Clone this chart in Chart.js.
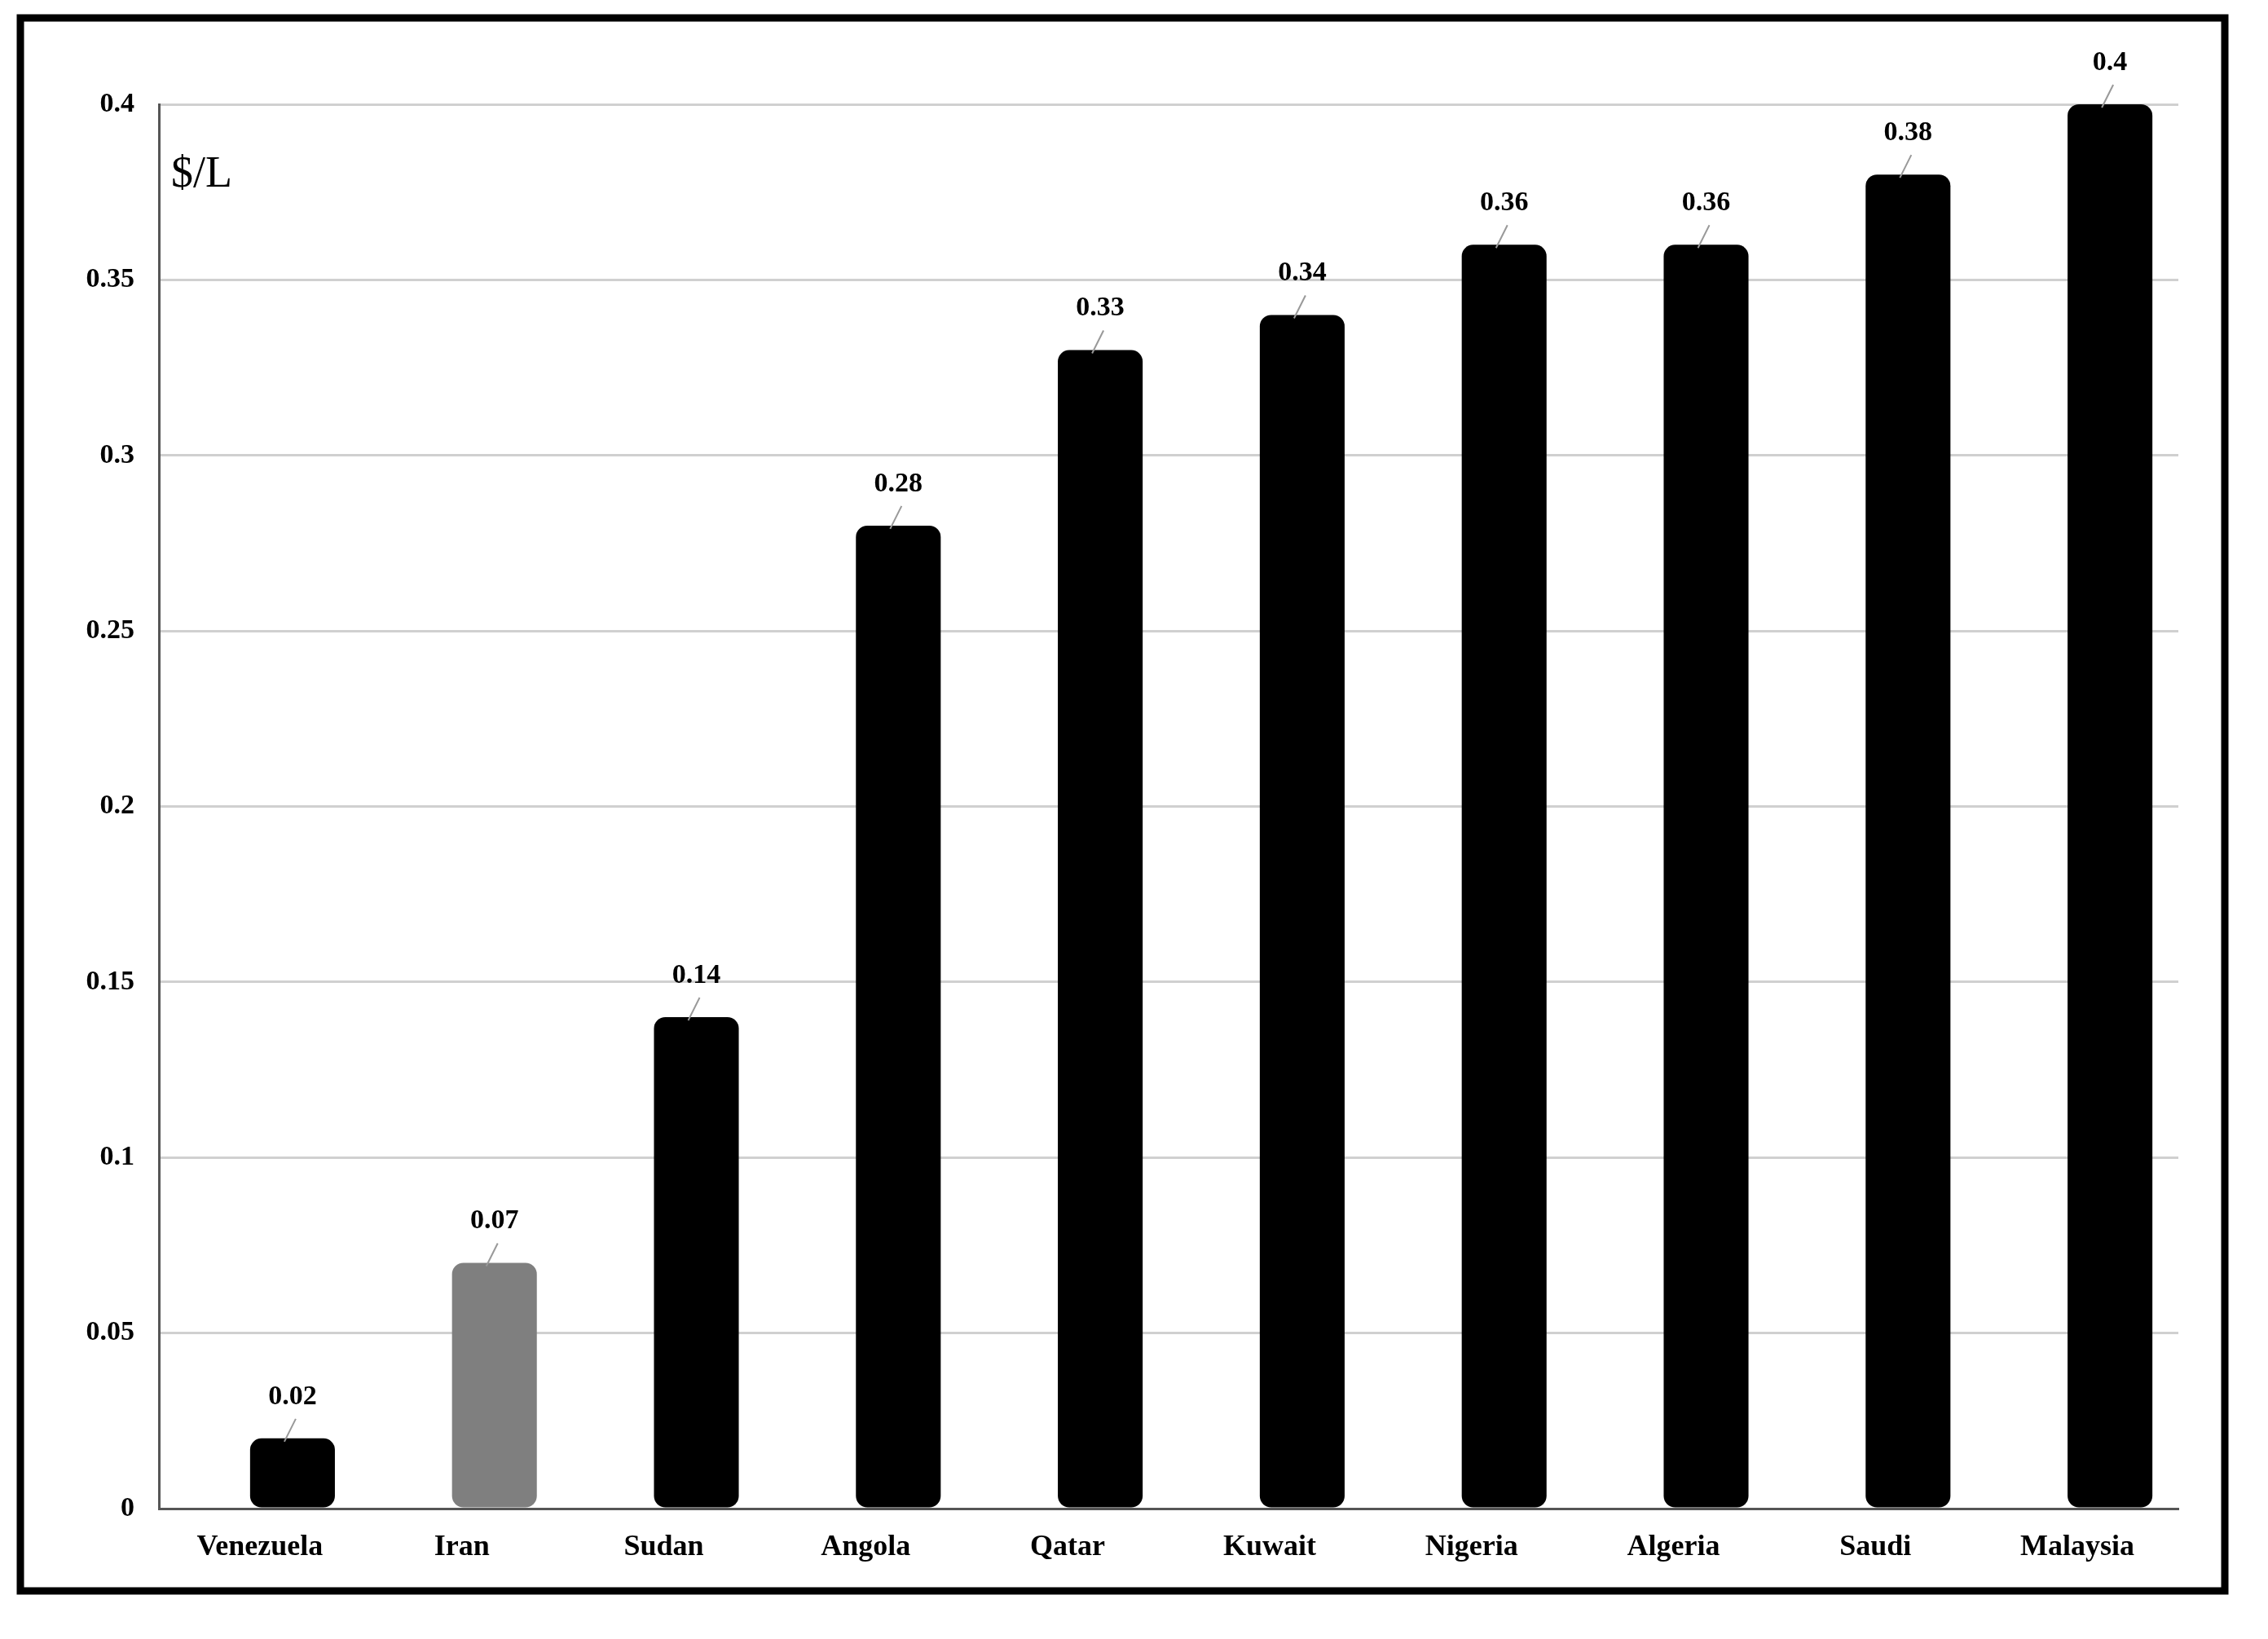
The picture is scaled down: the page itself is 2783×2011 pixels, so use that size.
<!DOCTYPE html>
<html>
<head>
<meta charset="utf-8">
<script src="https://cdn.jsdelivr.net/npm/chart.js@4"></script>
<style>
  html, body { margin: 0; padding: 0; background: #fff; }
  #wrap { position: relative; width: 2783px; height: 2011px; }
</style>
</head>
<body>
<div id="wrap"><canvas id="chart"></canvas></div>
<script>
const countries = ['Venezuela', 'Iran', 'Sudan', 'Angola', 'Qatar', 'Kuwait', 'Nigeria', 'Algeria', 'Saudi', 'Malaysia'];
const prices = [0.02, 0.07, 0.14, 0.28, 0.33, 0.34, 0.36, 0.36, 0.38, 0.4];
const barColors = ['#000', '#7f7f7f', '#000', '#000', '#000', '#000', '#000', '#000', '#000', '#000'];

const serif = '"Liberation Serif", "DejaVu Serif", serif';
const depthShift = 40; // bars sit on the back wall, a bit right of their labels

const decorations = {
  id: 'decorations',
  beforeDatasetsDraw(chart) {
    chart.ctx.save();
    chart.ctx.translate(depthShift, 0);
  },
  afterDatasetsDraw(chart) {
    const ctx = chart.ctx;
    ctx.restore();
    const meta = chart.getDatasetMeta(0);
    ctx.save();
    ctx.fillStyle = '#000';
    ctx.font = 'bold 34px ' + serif;
    ctx.textAlign = 'center';
    ctx.textBaseline = 'bottom';
    meta.data.forEach((bar, i) => {
      const x = bar.x + depthShift;
      ctx.fillText(String(prices[i]), x, bar.y - 34);
      ctx.strokeStyle = '#999';
      ctx.lineWidth = 2;
      ctx.beginPath();
      ctx.moveTo(x - 10, bar.y + 4);
      ctx.lineTo(x + 4, bar.y - 24);
      ctx.stroke();
    });
    ctx.font = '54px ' + serif;
    ctx.textAlign = 'left';
    ctx.textBaseline = 'middle';
    ctx.fillText('$/L', chart.chartArea.left + 15, 215);
    ctx.strokeStyle = '#000';
    ctx.lineWidth = 9;
    ctx.strokeRect(25, 22, 2705, 1930);
    ctx.restore();
  }
};

new Chart(document.getElementById('chart'), {
  type: 'bar',
  data: {
    labels: countries,
    datasets: [{
      data: prices,
      backgroundColor: barColors,
      borderRadius: { topLeft: 14, topRight: 14, bottomLeft: 14, bottomRight: 14 },
      borderSkipped: false,
      barPercentage: 0.42,
      categoryPercentage: 1
    }]
  },
  options: {
    responsive: true,
    maintainAspectRatio: false,
    animation: false,
    layout: { padding: { left: 40, right: 110, top: 128, bottom: 95 } },
    plugins: { legend: { display: false }, tooltip: { enabled: false } },
    scales: {
      y: {
        min: 0,
        max: 0.4,
        ticks: {
          stepSize: 0.05,
          color: '#000',
          font: { family: serif, size: 34, weight: 'bold' },
          padding: 30,
          callback: v => String(+v.toFixed(2))
        },
        grid: { color: '#d0d0d0', lineWidth: 3, drawTicks: false },
        border: { display: true, color: '#555', width: 3 },
        afterFit: s => { s.width = 155; }
      },
      x: {
        ticks: {
          color: '#000',
          font: { family: serif, size: 36, weight: 'bold' },
          padding: 18
        },
        grid: { display: false },
        border: { display: true, color: '#555', width: 3 },
        afterFit: s => { s.height = 65; }
      }
    }
  },
  plugins: [decorations]
});
</script>
</body>
</html>
